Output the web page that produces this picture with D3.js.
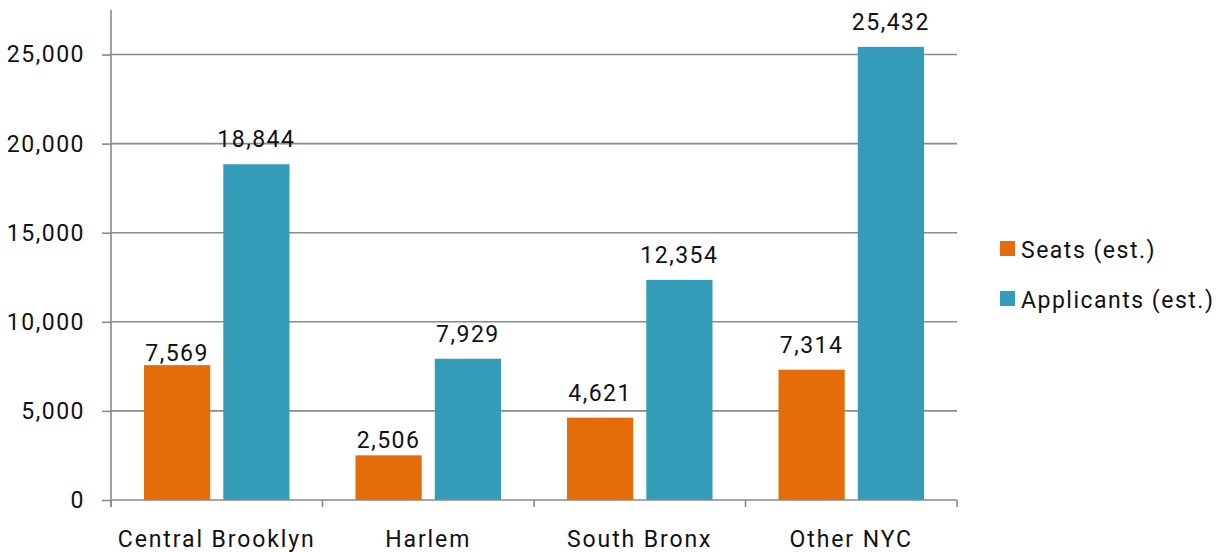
<!DOCTYPE html>
<html>
<head>
<meta charset="utf-8">
<script src="https://cdn.jsdelivr.net/npm/d3@7"></script>
<style>
  body { margin: 0; background: #fff; }
  text { font-family: Roboto, sans-serif; fill: #111; letter-spacing: 1.5px; }
  .cat { letter-spacing: 1.9px; }
</style>
</head>
<body>
<svg id="vis" width="1222" height="552"></svg>
<script>
var categories = ["Central Brooklyn", "Harlem", "South Bronx", "Other NYC"];
var seriesNames = ["Seats (est.)", "Applicants (est.)"];
var seats = [7569, 2506, 4621, 7314];
var applicants = [18844, 7929, 12354, 25432];
var yTicks = [0, 5000, 10000, 15000, 20000, 25000];

var colors = ["#e46c0a", "#349bb8"];
var gridColor = "#8a8a8a";

// a couple of labels sit closer to their bars in the original
var labelLift = {"0-0": 4, "1-0": 7};

var svg = d3.select("#vis");

var plotLeft = 111, plotRight = 957, plotTop = 10, plotBottom = 500;

var x0 = d3.scaleBand().domain(categories).range([plotLeft, plotRight]).padding(0);
var x1 = d3.scaleBand().domain(seriesNames)
  .range([33, x0.bandwidth() - 33]).paddingInner(0.165);
var y = d3.scaleLinear().domain([0, 27500]).range([plotBottom, plotTop]);

var fmt = d3.format(",");

// gridlines
svg.append("g")
  .selectAll("line")
  .data(yTicks.filter(function(d) { return d > 0; }))
  .enter().append("line")
    .attr("x1", plotLeft).attr("x2", plotRight)
    .attr("y1", function(d) { return y(d); })
    .attr("y2", function(d) { return y(d); })
    .attr("stroke", gridColor)
    .attr("stroke-width", 1.6);

// y axis
var yAxis = d3.axisLeft(y).tickValues(yTicks).tickFormat(fmt).tickSize(9).tickPadding(17);
var gy = svg.append("g")
  .attr("transform", "translate(" + plotLeft + ",0)")
  .call(yAxis);
gy.select(".domain").attr("stroke", gridColor).attr("stroke-width", 1.6)
  .attr("d", "M0," + plotTop + "V" + (plotBottom + 7));
gy.selectAll(".tick line").attr("stroke", gridColor).attr("stroke-width", 1.6);
gy.selectAll(".tick text").attr("font-size", 23).attr("font-family", "Roboto, sans-serif").attr("fill", "#111");

// bars
var data = categories.map(function(c, i) { return [seats[i], applicants[i]]; });
var groups = svg.append("g").selectAll("g")
  .data(data)
  .enter().append("g")
    .attr("transform", function(d, i) { return "translate(" + x0(categories[i]) + ",0)"; });

groups.each(function(vals, ci) {
  var g = d3.select(this);
  g.selectAll("rect")
    .data(vals)
    .enter().append("rect")
      .attr("x", function(d, si) { return x1(seriesNames[si]); })
      .attr("width", x1.bandwidth())
      .attr("y", function(d) { return y(d); })
      .attr("height", function(d) { return plotBottom - y(d); })
      .attr("fill", function(d, si) { return colors[si]; });
  g.selectAll("text")
    .data(vals)
    .enter().append("text")
      .attr("x", function(d, si) { return x1(seriesNames[si]) + x1.bandwidth() / 2; })
      .attr("y", function(d, si) {
        var lift = labelLift[ci + "-" + si];
        return y(d) - (lift === undefined ? 17 : lift);
      })
      .attr("text-anchor", "middle")
      .attr("font-size", 23)
      .text(function(d) { return fmt(d); });
});

// x axis
svg.append("line")
  .attr("x1", plotLeft).attr("x2", plotRight)
  .attr("y1", plotBottom).attr("y2", plotBottom)
  .attr("stroke", gridColor).attr("stroke-width", 1.6);
var bounds = categories.map(function(c) { return x0(c); }).concat([plotRight]);
svg.append("g").selectAll("line")
  .data(bounds)
  .enter().append("line")
    .attr("x1", function(d) { return d; }).attr("x2", function(d) { return d; })
    .attr("y1", plotBottom).attr("y2", plotBottom + 7)
    .attr("stroke", gridColor).attr("stroke-width", 1.6);
svg.append("g").selectAll("text")
  .data(categories)
  .enter().append("text")
    .attr("class", "cat")
    .attr("x", function(d) { return x0(d) + x0.bandwidth() / 2; })
    .attr("y", 547)
    .attr("text-anchor", "middle")
    .attr("font-size", 23)
    .text(function(d) { return d; });

// legend
var legend = svg.append("g").attr("transform", "translate(1000,241)");
var li = legend.selectAll("g")
  .data(seriesNames)
  .enter().append("g")
    .attr("transform", function(d, i) { return "translate(0," + (i * 50) + ")"; });
li.append("rect").attr("width", 15).attr("height", 15)
  .attr("fill", function(d, i) { return colors[i]; });
li.append("text").attr("x", 21).attr("y", 17)
  .attr("font-size", 23)
  .text(function(d) { return d; });
</script>
</body>
</html>
